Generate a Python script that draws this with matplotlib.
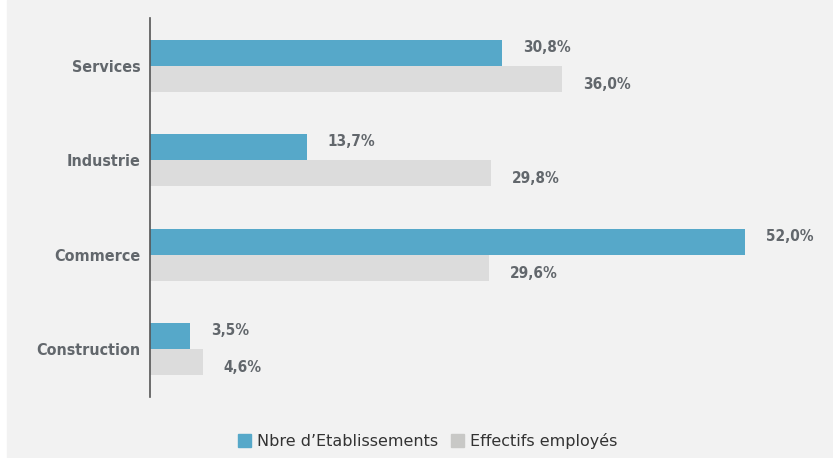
import numpy as np
import matplotlib.pyplot as plt
from matplotlib.patches import Rectangle

categories = ["Services", "Industrie", "Commerce", "Construction"]
etab = [30.8, 13.7, 52.0, 3.5]
effectifs = [36.0, 29.8, 29.6, 4.6]
etab_labels = ["30,8%", "13,7%", "52,0%", "3,5%"]
eff_labels = ["36,0%", "29,8%", "29,6%", "4,6%"]

blue = "#56a8c9"
grey = "#dcdcdc"
bg = "#f2f2f2"
txt = "#62676c"

fig = plt.figure(figsize=(8.33, 4.58), dpi=100, facecolor="white")
fig.patches.append(Rectangle((7 / 833, 0), 1, 1, transform=fig.transFigure,
                             color=bg, zorder=-10))
ax = fig.add_axes([150 / 833, 1 - 397 / 458, 683 / 833, 379 / 458])
ax.set_facecolor("none")

y = np.arange(len(categories))
h = 0.275
ax.barh(y - h / 2, etab, height=h, color=blue)
ax.barh(y + h / 2, effectifs, height=h, color=grey)

# DIN-like condensed bold look
lab = dict(fontsize=11, fontweight="bold", color=txt, family="DejaVu Sans",
           fontstretch="condensed")
for i in range(len(categories)):
    ax.annotate(etab_labels[i], (etab[i], y[i] - h / 2), xytext=(15, 4),
                textcoords="offset points", va="center", ha="left", **lab)
    ax.annotate(eff_labels[i], (effectifs[i], y[i] + h / 2), xytext=(15, -4),
                textcoords="offset points", va="center", ha="left", **lab)

ax.set_xlim(0, 683 / 11.44)
ax.set_ylim(3.51, -0.51)
ax.set_yticks(y)
ax.set_yticklabels(categories)
for t in ax.get_yticklabels():
    t.set(**lab)
    t.set_fontsize(11.5)
ax.tick_params(axis="y", length=0, pad=7)
ax.set_xticks([])
for s in ["top", "right", "bottom"]:
    ax.spines[s].set_visible(False)
ax.spines["left"].set_color("#555555")
ax.spines["left"].set_linewidth(1.2)

handles = [Rectangle((0, 0), 1, 1, color=blue),
           Rectangle((0, 0), 1, 1, color="#c8c8c6")]
fig.legend(handles, ["Nbre d\u2019Etablissements", "Effectifs employés"],
           loc="center", bbox_to_anchor=(428 / 833, 1 - 441 / 458), ncol=2,
           frameon=False, fontsize=11.5, handlelength=0.8, handleheight=0.8,
           handletextpad=0.4, columnspacing=0.8, labelcolor="#333333")

fig.savefig("out.png", dpi=100, facecolor=fig.get_facecolor())
